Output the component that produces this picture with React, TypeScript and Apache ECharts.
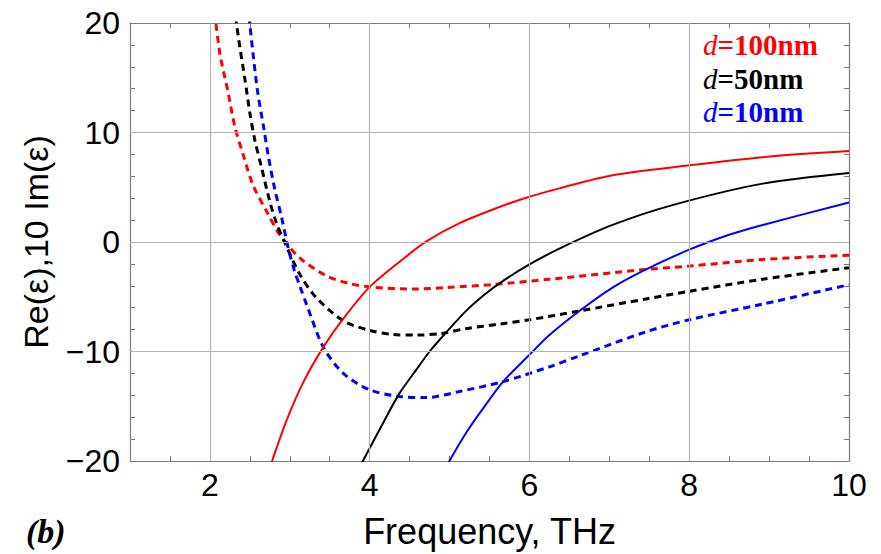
import React, { useEffect, useRef } from "react";
import * as echarts from "echarts";

// ---- Data ----
// Re(eps), d = 100 nm (solid red)
const fReD100 = [2.77, 2.96, 3.17, 3.42, 3.67, 4.0, 4.375, 4.71, 5.125, 5.625, 6.0, 6.375, 7.04, 8.0, 8.92, 10];
const reD100 = [-20.2, -16.3, -12.8, -9.6, -7.0, -4.1, -1.8, 0.05, 1.72, 3.2, 4.13, 4.9, 6.1, 7.0, 7.75, 8.3];
// Re(eps), d = 50 nm (solid black)
const fReD50 = [3.9, 4.17, 4.375, 4.58, 4.75, 4.94, 5.21, 5.42, 5.67, 6.0, 6.375, 7.04, 7.79, 8.92, 10];
const reD50 = [-20.2, -16.5, -13.8, -11.7, -10.0, -8.4, -6.27, -4.9, -3.55, -2.05, -0.6, 1.56, 3.37, 5.33, 6.3];
// Re(eps), d = 10 nm (solid blue)
const fReD10 = [4.99, 5.21, 5.42, 5.67, 6.0, 6.25, 6.625, 7.04, 7.46, 8.0, 8.5, 8.92, 10];
const reD10 = [-20.1, -17.4, -15.2, -12.75, -10.3, -8.5, -6.3, -4.16, -2.5, -0.7, 0.66, 1.56, 3.6];
// 10 Im(eps), d = 100 nm (dashed red)
const fImD100 = [2.06, 2.125, 2.23, 2.31, 2.42, 2.54, 2.71, 2.875, 3.125, 3.46, 3.75, 4.0, 4.54, 4.96, 5.58, 6.25, 7.46, 8.0, 8.92, 10];
const imD100 = [21, 17.2, 13.6, 10.6, 7.9, 5.2, 2.8, 0.66, -1.45, -3.1, -3.8, -4.1, -4.3, -4.16, -3.86, -3.4, -2.5, -2.2, -1.6, -1.2];
// 10 Im(eps), d = 50 nm (dashed black)
const fImD50 = [2.32, 2.375, 2.44, 2.5, 2.56, 2.65, 2.75, 2.83, 2.94, 3.125, 3.33, 3.67, 4.0, 4.29, 4.6, 4.9, 5.21, 5.625, 6.0, 6.625, 7.46, 8.0, 8.92, 10];
const imD50 = [20.6, 17.8, 14.8, 11.8, 9.4, 6.7, 3.7, 1.8, -0.1, -2.95, -5.06, -7.2, -8.07, -8.45, -8.5, -8.35, -7.9, -7.5, -7.1, -6.3, -5.2, -4.5, -3.4, -2.35];
// 10 Im(eps), d = 10 nm (dashed blue)
const fImD10 = [2.49, 2.54, 2.6, 2.67, 2.73, 2.81, 2.9, 2.98, 3.06, 3.13, 3.21, 3.42, 3.67, 4.0, 4.375, 4.71, 5.125, 5.67, 6.25, 6.625, 7.46, 8.0, 8.92, 10];
const imD10 = [20.6, 17.2, 13.6, 10.6, 7.9, 4.9, 2.17, -0.54, -2.65, -4.1, -5.7, -9.6, -12.0, -13.5, -14.1, -14.2, -13.65, -12.75, -11.4, -10.4, -8.2, -7.1, -5.67, -3.9];

const xTickLabels = [2, 4, 6, 8, 10];
const yTickLabels = [-20, -10, 0, 10, 20];
const xGridLines = [2, 4, 6, 8];
const yGridLines = [-10, 0, 10];

const legendItems = [
  { label: "=100nm", color: "#ff0000" },
  { label: "=50nm", color: "#000000" },
  { label: "=10nm", color: "#0000ff" },
];

const zip = (xs: number[], ys: number[]) => xs.map((x, i) => [x, ys[i]]);

const SANS = "'Liberation Sans', Arial, sans-serif";
const SERIF = "'Liberation Serif', 'Times New Roman', serif";
const FRAME = "#7a7a7a";

export default function App() {
  const ref = useRef<HTMLDivElement>(null);

  useEffect(() => {
    if (!ref.current) return;
    const chart = echarts.init(ref.current, undefined, { renderer: "svg" });

    const isLabel = (v: number, arr: number[]) => arr.some((a) => Math.abs(a - v) < 1e-6);
    const fmtNum = (v: number) => (v < 0 ? "\u2212" + Math.abs(v) : String(v));

    const axisCommonX = {
      type: "value" as const,
      min: 1,
      max: 10,
      interval: 0.5,
      axisLine: { show: true, onZero: false, lineStyle: { color: FRAME, width: 1.2 } },
      axisTick: { show: true, inside: true, length: 5, lineStyle: { color: FRAME, width: 1 } },
      splitLine: { show: false },
    };
    const axisCommonY = {
      type: "value" as const,
      min: -20,
      max: 20,
      interval: 2,
      axisLine: { show: true, onZero: false, lineStyle: { color: FRAME, width: 1.2 } },
      axisTick: { show: true, inside: true, length: 5, lineStyle: { color: FRAME, width: 1 } },
      splitLine: { show: false },
    };

    const curve = (name: string, data: number[][], color: string, dashed: boolean) => ({
      type: "line",
      name,
      data,
      symbol: "none",
      showSymbol: false,
      smooth: 0.3,
      clip: true,
      z: 3,
      lineStyle: dashed ? { color, width: 3, type: [7, 5] } : { color, width: 2 },
    });

    const option: any = {
      animation: false,
      backgroundColor: "#ffffff",
      grid: { left: 130, top: 23, right: 32, bottom: 89, containLabel: false },
      xAxis: [
        {
          ...axisCommonX,
          position: "bottom",
          axisLabel: {
            show: true,
            margin: 8,
            fontSize: 32,
            color: "#000",
            fontFamily: SANS,
            formatter: (v: number) => (isLabel(v, xTickLabels) ? fmtNum(Math.round(v)) : ""),
          },
          name: "Frequency, THz",
          nameLocation: "middle",
          nameGap: 52,
          nameTextStyle: { fontSize: 36, color: "#000", fontFamily: SANS },
        },
        { ...axisCommonX, position: "top", axisLabel: { show: false } },
      ],
      yAxis: [
        {
          ...axisCommonY,
          position: "left",
          axisLabel: {
            show: true,
            margin: 10,
            fontSize: 32,
            color: "#000",
            fontFamily: SANS,
            formatter: (v: number) => (isLabel(v, yTickLabels) ? fmtNum(Math.round(v)) : ""),
          },
          name: "Re(\u03b5),10 Im(\u03b5)",
          nameLocation: "middle",
          nameGap: 77,
          nameTextStyle: { fontSize: 34, color: "#000", fontFamily: SANS },
        },
        { ...axisCommonY, position: "right", axisLabel: { show: false } },
      ],
      series: [
        {
          type: "line",
          name: "grid",
          data: [],
          z: 1,
          silent: true,
          markLine: {
            silent: true,
            symbol: ["none", "none"],
            label: { show: false },
            animation: false,
            lineStyle: { color: "#b4b4b4", width: 1.2, type: "solid" },
            data: [
              ...xGridLines.map((v) => ({ xAxis: v })),
              ...yGridLines.map((v) => ({ yAxis: v })),
            ],
          },
        },
        curve("10 Im d=100nm", zip(fImD100, imD100), "#ff0000", true),
        curve("10 Im d=50nm", zip(fImD50, imD50), "#000000", true),
        curve("10 Im d=10nm", zip(fImD10, imD10), "#0000ff", true),
        curve("Re d=100nm", zip(fReD100, reD100), "#ff0000", false),
        curve("Re d=50nm", zip(fReD50, reD50), "#000000", false),
        curve("Re d=10nm", zip(fReD10, reD10), "#0000ff", false),
      ],
      graphic: [
        ...legendItems.map((it, i) => ({
          type: "text",
          x: 703,
          y: 45 + i * 33.5,
          z: 10,
          style: {
            text: "{i|d}{b|" + it.label + "}",
            verticalAlign: "middle",
            align: "left",
            rich: {
              i: { fontStyle: "italic", fontSize: 29, fontFamily: SERIF, fill: it.color },
              b: { fontWeight: "bold", fontSize: 29, fontFamily: SERIF, fill: it.color },
            },
          },
        })),
        {
          type: "text",
          x: 26,
          y: 531,
          style: {
            text: "(b)",
            verticalAlign: "middle",
            align: "left",
            fontStyle: "italic",
            fontWeight: "bold",
            fontSize: 34,
            fontFamily: SERIF,
            fill: "#000",
          },
        },
      ],
    };

    chart.setOption(option);
    return () => chart.dispose();
  }, []);

  return (
    <div
      ref={ref}
      style={{ position: "absolute", left: 0, top: 0, width: 881, height: 554, background: "#fff" }}
    />
  );
}
